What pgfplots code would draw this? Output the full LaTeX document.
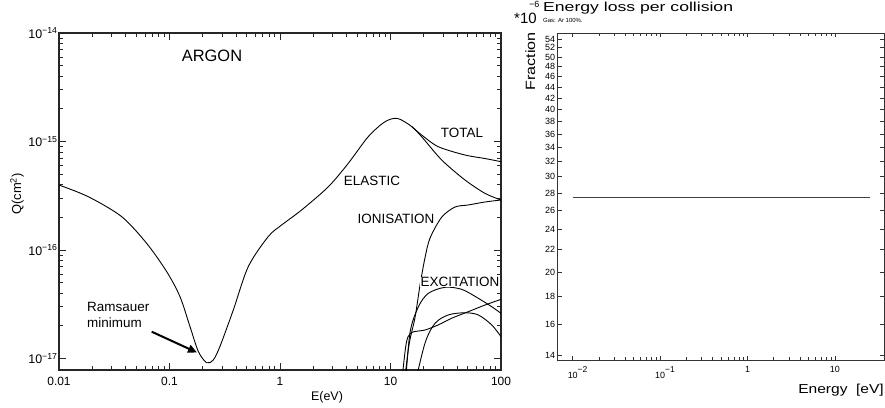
\documentclass[border=0pt]{standalone}
\usepackage{fontspec}
\setmainfont{Liberation Sans}
\usepackage{pgfplots}
\pgfplotsset{compat=1.18}
\usetikzlibrary{arrows.meta}

\pgfplotstableread{
E Q
0.01 3.97e-16
0.0184 3.10e-16
0.0369 2.03e-16
0.0622 1.15e-16
0.0944 6.31e-17
0.1245 3.71e-17
0.1535 1.96e-17
0.1824 1.16e-17
0.217 9.14e-18
0.249 9.69e-18
0.286 1.29e-17
0.378 2.80e-17
0.516 7.02e-17
0.783 1.33e-16
1.035 1.70e-16
1.57 2.34e-16
2.74 3.83e-16
4.15 6.30e-16
6.30 1.11e-15
8.91 1.52e-15
11.6 1.63e-15
15.6 1.37e-15
19.1 1.11e-15
29.1 6.75e-16
47.2 4.42e-16
71.6 3.33e-16
100 2.89e-16
}\elastic

\pgfplotstableread{
E Q
15.6 1.37e-15
19.1 1.15e-15
27.1 8.95e-16
47.2 7.51e-16
71.6 6.97e-16
100 6.52e-16
}\total

\pgfplotstableread{
E Q
13.06 5e-18
14.7 1.33e-17
16.7 2.41e-17
18.5 4.75e-17
20.5 8.44e-17
22.8 1.29e-16
29.1 2.01e-16
38.4 2.49e-16
50.6 2.60e-16
71.6 2.77e-16
100 2.89e-16
}\ionis

\pgfplotstableread{
E Q
13.5 5e-18
15.0 1.72e-17
17.9 3.0e-17
22.0 3.99e-17
31.1 4.53e-17
44.1 4.34e-17
62.3 3.59e-17
82.4 3.0e-17
100 2.61e-17
}\excA

\pgfplotstableread{
E Q
12.4 5e-18
13.8 1.33e-17
15.3 1.72e-17
20.5 1.83e-17
27.1 2.04e-17
35.8 2.35e-17
50.6 2.70e-17
71.6 3.11e-17
100 3.51e-17
}\excB

\pgfplotstableread{
E Q
16.1 5e-18
20.5 1.38e-17
25.3 2.11e-17
33.3 2.52e-17
47.2 2.64e-17
62.3 2.52e-17
82.4 2.04e-17
100 1.59e-17
}\excC

\begin{document}
\begin{tikzpicture}[x=1bp,y=1bp]
\useasboundingbox (0,0) rectangle (885,407);

% ---------- left panel ----------
\begin{axis}[
  at={(59bp,37bp)}, anchor=south west,
  scale only axis, width=442bp, height=337bp,
  xmode=log, ymode=log,
  xmin=0.01, xmax=100, ymin=7.83e-18, ymax=1e-14,
  xtick={0.01,0.1,1,10,100},
  xticklabels={0.01,0.1,1,10,100},
  ytick={1e-17,1e-16,1e-15,1e-14},
  yticklabels={10\textsuperscript{−17},10\textsuperscript{−16},10\textsuperscript{−15},10\textsuperscript{−14}},
  tick align=inside,
  major tick length=7bp, minor tick length=4bp,
  axis line style={line width=1.1pt, black!85},
  every tick/.style={black!85, line width=0.9pt},
  xticklabel style={font=\fontsize{12}{13}\selectfont, yshift=-4bp},
  yticklabel style={font=\fontsize{12.5}{13}\selectfont, xshift=2bp},
]
\addplot[black, line width=0.9pt, smooth] table {\elastic};
\addplot[black, line width=0.9pt, smooth] table {\total};
\addplot[black, line width=0.9pt, smooth] table {\ionis};
\addplot[black, line width=0.9pt, smooth] table {\excA};
\addplot[black, line width=0.9pt, smooth] table {\excB};
\addplot[black, line width=0.9pt, smooth] table {\excC};
\end{axis}

\node[font=\fontsize{16.5}{18}\selectfont] at (212,351) {ARGON};
\node[font=\fontsize{13.5}{15}\selectfont] at (462,274) {TOTAL};
\node[font=\fontsize{13.5}{15}\selectfont] at (372,226) {ELASTIC};
\node[font=\fontsize{13.5}{15}\selectfont] at (396,188) {IONISATION};
\node[font=\fontsize{13.5}{15}\selectfont, fill=white, inner sep=0.5pt] at (460,125) {EXCITATION};
\node[font=\fontsize{13.5}{15}\selectfont, anchor=west, inner sep=0] at (87,100) {Ramsauer};
\node[font=\fontsize{13.5}{15}\selectfont, anchor=west, inner sep=0] at (87,84) {minimum};
\draw[line width=2pt, -{Triangle[length=9bp,width=8bp]}] (151.7,75.3) -- (197,54.5);
\node[font=\fontsize{13}{15}\selectfont, rotate=90, anchor=base] at (21,213) {Q(cm\textsuperscript{2})};
\node[font=\fontsize{12.5}{14}\selectfont] at (327,10) {E(eV)};

% ---------- right panel ----------
\begin{axis}[
  at={(557.7bp,47bp)}, anchor=south west,
  scale only axis, width=326.3bp, height=327bp,
  xmode=log, ymode=log,
  xmin=0.00673, xmax=36.5, ymin=13.74, ymax=55.4,
  xtick={0.01,0.1,1,10},
  xticklabels={10\rlap{\raisebox{1.2ex}{\fontsize{8.5}{8}\selectfont −2}},10\rlap{\raisebox{1.2ex}{\fontsize{8.5}{8}\selectfont −1}},1,10},
  ytick={14,16,18,20,22,24,26,28,30,32,34,36,38,40,42,44,46,48,50,52,54},
  yticklabels={14,16,18,20,22,24,26,28,30,32,34,36,38,40,42,44,46,48,50,52,54},
  yminorticks=false,
  tick align=inside,
  major tick length=4bp, minor tick length=3.5bp,
  axis line style={line width=0.9pt, black!80},
  every tick/.style={black!80, line width=0.7pt},
  xticklabel style={font=\fontsize{9}{9}\selectfont, yshift=-3bp},
  yticklabel style={font=\fontsize{9}{9}\selectfont, xshift=1bp},
]
\addplot[black!75, line width=0.9pt] coordinates {(0.01,27.5) (25,27.5)};
\end{axis}

\node[font=\fontsize{15}{16}\selectfont, anchor=base west, inner sep=0] at (514,384) {*10};
\node[font=\fontsize{9}{10}\selectfont, anchor=base west, inner sep=0] at (529,399.5) {−6};
\node[font=\fontsize{13}{14}\selectfont, anchor=base west, inner sep=0] at (543,395) {\scalebox{1.36}[1]{Energy loss per collision}};
\node[font=\fontsize{6}{6}\selectfont, anchor=base west, inner sep=0] at (543,385) {Gas: Ar 100\%.};
\node[font=\fontsize{13.5}{14}\selectfont, rotate=90, anchor=base east, inner sep=0] at (535,375) {\scalebox{1.2}[1]{Fraction}};
\node[font=\fontsize{13}{14}\selectfont, anchor=base east, inner sep=0] at (884,14) {\scalebox{1.2}[1]{Energy\ \ [eV]}};
\end{tikzpicture}
\end{document}
